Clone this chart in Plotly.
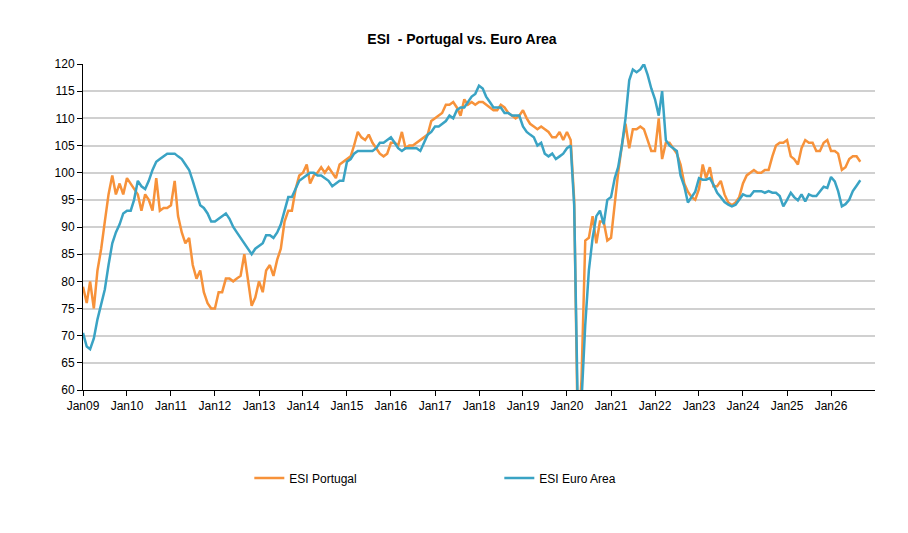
import pandas as pd
import plotly.graph_objects as go

# monthly values, Jan 2009 .. Sep 2026
portugal = [
    79, 76, 80, 75, 82, 86, 91, 96, 99.5, 96, 98, 96,                 # 2009
    99, 98, 97, 96, 93, 96, 95, 93, 99, 93, 93.5, 93.5,               # 2010
    94, 98.5, 92, 89, 87, 88, 83, 80.5, 82, 78, 76, 75,               # 2011
    75, 78, 78, 80.5, 80.5, 80, 80.5, 81, 85, 80, 75.5, 77,           # 2012
    80, 78, 82, 83, 81, 84, 86, 91, 93, 93, 97, 99.5,                 # 2013
    100, 101.5, 98, 99.5, 100, 101, 100, 101, 100, 99, 101.5, 102,    # 2014
    102.5, 103, 105, 107.5, 106.5, 106, 107, 105.5, 104.5, 103.5, 103, 103.5,  # 2015
    105.5, 105.5, 105, 107.5, 104.5, 105, 105, 105.5, 106, 106.5, 107, 109.5,  # 2016
    110, 110.5, 111, 112.5, 112.5, 113, 112, 110.5, 113.5, 112.5, 113, 112.5,  # 2017
    113, 113, 112.5, 112, 111.5, 111.5, 112.5, 112, 111, 110.5, 110, 110.5,    # 2018
    111.5, 110, 109, 108.5, 108, 108.5, 108, 107.5, 106.5, 106.5, 107.5, 106,  # 2019
    107.5, 106, 95, 50, 62, 87.5, 88, 92, 87, 91, 91, 87.5,           # 2020
    88, 95, 100, 105, 109, 104.5, 108, 108, 108.5, 108, 106, 104,     # 2021
    104, 110, 102.5, 105.5, 105.5, 104.5, 103.5, 101.5, 98, 96.5, 95.5, 95,    # 2022
    97, 101.5, 99, 101, 97.5, 97.5, 98.5, 96, 94.5, 94, 94.5, 95.5,   # 2023
    98, 99.5, 100, 100.5, 100, 100, 100.5, 100.5, 103, 105, 105.5, 105.5,      # 2024
    106, 103, 102.5, 101.5, 104.5, 106, 105.5, 105.5, 104, 104, 105.5, 106,    # 2025
    104, 104, 103.5, 100.5, 101, 102.5, 103, 103, 102,                # 2026
]
euro_area = [
    70.5, 68, 67.5, 69.5, 73, 76, 78.5, 83, 87, 89, 90.5, 92.5,
    93, 93, 95, 98.5, 97.5, 97, 98.5, 100.5, 102, 102.5, 103, 103.5,
    103.5, 103.5, 103, 102.5, 101.5, 100.5, 98.5, 96, 94, 93.5, 92.5, 91,
    91, 91.5, 92, 92.5, 91.5, 90, 89, 88, 87, 86, 85, 86,
    86.5, 87, 88.5, 88.5, 88, 89, 90.5, 93, 95.5, 95.5, 97, 98.5,
    99, 99.5, 100, 100, 99.5, 99.5, 99, 98.5, 97.5, 98, 98.5, 98.5,
    102, 102.5, 103.5, 104, 104, 104, 104, 104, 104.5, 105.5, 105.5, 106,
    106.5, 105.5, 104.5, 104, 104.5, 104.5, 104.5, 104.5, 104, 105.5, 107, 107.5,
    108.5, 108.5, 109, 109.5, 110.5, 110, 111.5, 112, 112, 113, 114, 114.5,
    116, 115.5, 114, 113, 112, 112, 112, 111, 111, 110.5, 110.5, 110.5,
    108.5, 107.5, 107, 106.5, 105, 105.5, 103.5, 103, 103.5, 102.5, 103, 103.5,
    104.5, 105, 94, 55, 58, 72, 82, 88, 92, 93, 90.5, 95,
    95.5, 99, 101, 105, 110, 117, 119, 118.5, 119, 120, 118, 115.5,
    113.5, 110.5, 115, 106, 105, 104.5, 104, 99.5, 97.5, 94.5, 95.5, 96.5,
    99, 98.7, 98.7, 99, 97.8, 96.3, 95.5, 94.6, 94.1, 93.8, 94.1, 95,
    96, 95.7, 95.7, 96.6, 96.6, 96.6, 96.3, 96.6, 96.3, 96.3, 95.7, 93.8,
    95, 96.3, 95.5, 94.9, 96, 94.7, 96, 95.7, 95.7, 96.6, 97.4, 97.2,
    99.2, 98.4, 96.6, 93.8, 94.2, 95, 96.6, 97.6, 98.6,
]
dates = pd.date_range("2009-01-01", periods=len(portugal), freq="MS")
tick_dates = pd.date_range("2009-01-01", "2026-01-01", freq="YS")
tick_labels = ["Jan" + d.strftime("%y") for d in tick_dates]

fig = go.Figure()
fig.add_trace(go.Scatter(x=dates, y=portugal, mode="lines", name="ESI Portugal",
                         line=dict(color="#F7923A", width=2.5)))
fig.add_trace(go.Scatter(x=dates, y=euro_area, mode="lines", name="ESI Euro Area",
                         line=dict(color="#3AA3C4", width=2.5)))

fig.update_layout(
    width=908, height=533,
    margin=dict(l=75, r=41, t=56, b=151),
    paper_bgcolor="white", plot_bgcolor="white",
    font=dict(family="Liberation Sans, Arial", size=12, color="black"),
    title=dict(text="<b>ESI  - Portugal vs. Euro Area</b>", x=0.5, xanchor="center",
               y=0.95, font=dict(size=14)),
    showlegend=True,
    legend=dict(orientation="h", x=0.21, y=-0.27, xanchor="left", yanchor="middle",
                entrywidth=205, font=dict(size=12)),
)
fig.update_xaxes(range=["2009-01-01", "2027-01-01"], tickvals=tick_dates, ticktext=tick_labels,
                 showline=True, linecolor="black", linewidth=1, ticks="outside",
                 ticklen=5, tickcolor="black", showgrid=False)
fig.update_yaxes(range=[60, 120], dtick=5, showline=True, linecolor="black", linewidth=1,
                 ticks="outside", ticklen=5, tickcolor="black",
                 showgrid=True, gridcolor="#D0D0D0", gridwidth=1.5, zeroline=False)

fig.write_html("out.html")
